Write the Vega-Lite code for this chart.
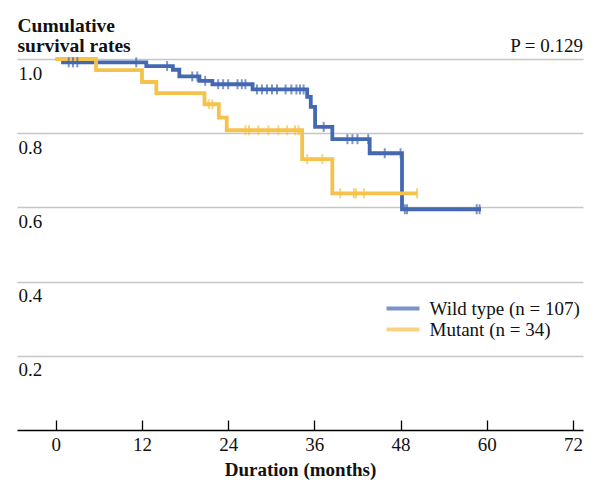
{
  "$schema": "https://vega.github.io/schema/vega-lite/v6.json",
  "width": 566,
  "height": 371,
  "autosize": {"type": "none"},
  "padding": {"left": 17, "top": 59, "right": 18, "bottom": 62},
  "background": "white",
  "config": {
    "font": "Liberation Serif",
    "view": {"stroke": null},
    "legend": {"padding": 0}
  },
  "datasets": {
    "steps": [
      {"group": "Wild type (n = 107)", "m": 0, "s": 1.0},
      {"group": "Wild type (n = 107)", "m": 1.0, "s": 0.991},
      {"group": "Wild type (n = 107)", "m": 12.6, "s": 0.981},
      {"group": "Wild type (n = 107)", "m": 16.3, "s": 0.971},
      {"group": "Wild type (n = 107)", "m": 17.2, "s": 0.953},
      {"group": "Wild type (n = 107)", "m": 20.0, "s": 0.941},
      {"group": "Wild type (n = 107)", "m": 21.8, "s": 0.932},
      {"group": "Wild type (n = 107)", "m": 27.4, "s": 0.918},
      {"group": "Wild type (n = 107)", "m": 35.0, "s": 0.898},
      {"group": "Wild type (n = 107)", "m": 35.5, "s": 0.871},
      {"group": "Wild type (n = 107)", "m": 36.1, "s": 0.817},
      {"group": "Wild type (n = 107)", "m": 38.5, "s": 0.784},
      {"group": "Wild type (n = 107)", "m": 43.7, "s": 0.746},
      {"group": "Wild type (n = 107)", "m": 48.2, "s": 0.595},
      {"group": "Wild type (n = 107)", "m": 59.2, "s": 0.595},
      {"group": "Mutant (n = 34)", "m": 0, "s": 1.0},
      {"group": "Mutant (n = 34)", "m": 5.6, "s": 0.970},
      {"group": "Mutant (n = 34)", "m": 12.0, "s": 0.938},
      {"group": "Mutant (n = 34)", "m": 14.0, "s": 0.908},
      {"group": "Mutant (n = 34)", "m": 20.7, "s": 0.878},
      {"group": "Mutant (n = 34)", "m": 22.7, "s": 0.842},
      {"group": "Mutant (n = 34)", "m": 23.8, "s": 0.808},
      {"group": "Mutant (n = 34)", "m": 34.3, "s": 0.730},
      {"group": "Mutant (n = 34)", "m": 38.5, "s": 0.638},
      {"group": "Mutant (n = 34)", "m": 50.3, "s": 0.638}
    ],
    "censors": [
      {"group": "Wild type (n = 107)", "m": 1.8, "s": 0.991},
      {"group": "Wild type (n = 107)", "m": 2.4, "s": 0.991},
      {"group": "Wild type (n = 107)", "m": 3.0, "s": 0.991},
      {"group": "Wild type (n = 107)", "m": 11.2, "s": 0.991},
      {"group": "Wild type (n = 107)", "m": 15.5, "s": 0.981},
      {"group": "Wild type (n = 107)", "m": 19.0, "s": 0.953},
      {"group": "Wild type (n = 107)", "m": 19.7, "s": 0.953},
      {"group": "Wild type (n = 107)", "m": 20.8, "s": 0.941},
      {"group": "Wild type (n = 107)", "m": 22.6, "s": 0.932},
      {"group": "Wild type (n = 107)", "m": 23.3, "s": 0.932},
      {"group": "Wild type (n = 107)", "m": 24.0, "s": 0.932},
      {"group": "Wild type (n = 107)", "m": 25.3, "s": 0.932},
      {"group": "Wild type (n = 107)", "m": 25.9, "s": 0.932},
      {"group": "Wild type (n = 107)", "m": 26.4, "s": 0.932},
      {"group": "Wild type (n = 107)", "m": 28.0, "s": 0.918},
      {"group": "Wild type (n = 107)", "m": 28.7, "s": 0.918},
      {"group": "Wild type (n = 107)", "m": 29.4, "s": 0.918},
      {"group": "Wild type (n = 107)", "m": 30.1, "s": 0.918},
      {"group": "Wild type (n = 107)", "m": 30.8, "s": 0.918},
      {"group": "Wild type (n = 107)", "m": 32.0, "s": 0.918},
      {"group": "Wild type (n = 107)", "m": 32.8, "s": 0.918},
      {"group": "Wild type (n = 107)", "m": 33.5, "s": 0.918},
      {"group": "Wild type (n = 107)", "m": 34.0, "s": 0.918},
      {"group": "Wild type (n = 107)", "m": 34.5, "s": 0.918},
      {"group": "Wild type (n = 107)", "m": 37.3, "s": 0.817},
      {"group": "Wild type (n = 107)", "m": 40.6, "s": 0.784},
      {"group": "Wild type (n = 107)", "m": 41.3, "s": 0.784},
      {"group": "Wild type (n = 107)", "m": 42.0, "s": 0.784},
      {"group": "Wild type (n = 107)", "m": 43.5, "s": 0.784},
      {"group": "Wild type (n = 107)", "m": 45.8, "s": 0.746},
      {"group": "Wild type (n = 107)", "m": 48.0, "s": 0.746},
      {"group": "Wild type (n = 107)", "m": 48.6, "s": 0.595},
      {"group": "Wild type (n = 107)", "m": 48.9, "s": 0.595},
      {"group": "Wild type (n = 107)", "m": 58.6, "s": 0.595},
      {"group": "Wild type (n = 107)", "m": 59.0, "s": 0.595},
      {"group": "Mutant (n = 34)", "m": 21.3, "s": 0.878},
      {"group": "Mutant (n = 34)", "m": 21.8, "s": 0.878},
      {"group": "Mutant (n = 34)", "m": 26.4, "s": 0.808},
      {"group": "Mutant (n = 34)", "m": 26.9, "s": 0.808},
      {"group": "Mutant (n = 34)", "m": 28.2, "s": 0.808},
      {"group": "Mutant (n = 34)", "m": 29.6, "s": 0.808},
      {"group": "Mutant (n = 34)", "m": 31.0, "s": 0.808},
      {"group": "Mutant (n = 34)", "m": 32.2, "s": 0.808},
      {"group": "Mutant (n = 34)", "m": 33.3, "s": 0.808},
      {"group": "Mutant (n = 34)", "m": 33.8, "s": 0.808},
      {"group": "Mutant (n = 34)", "m": 35.0, "s": 0.730},
      {"group": "Mutant (n = 34)", "m": 37.1, "s": 0.730},
      {"group": "Mutant (n = 34)", "m": 39.6, "s": 0.638},
      {"group": "Mutant (n = 34)", "m": 41.5, "s": 0.638},
      {"group": "Mutant (n = 34)", "m": 41.8, "s": 0.638},
      {"group": "Mutant (n = 34)", "m": 42.9, "s": 0.638},
      {"group": "Mutant (n = 34)", "m": 50.3, "s": 0.638}
    ],
    "note": [{"label": "P = 0.129"}]
  },
  "layer": [
    {
      "data": {"name": "steps"},
      "mark": {"type": "line", "interpolate": "step-after", "strokeWidth": 3.8},
      "encoding": {
        "x": {
          "field": "m", "type": "quantitative",
          "scale": {"domain": [-5.4, 73.4], "nice": false, "zero": false},
          "axis": {
            "title": "Duration (months)",
            "values": [0, 12, 24, 36, 48, 60, 72],
            "grid": false,
            "domainColor": "#000", "domainWidth": 1.3,
            "tickColor": "#000", "tickWidth": 1.3, "tickSize": -10,
            "labelPadding": 15, "labelFontSize": 19, "labelColor": "#111", "labelFlush": false,
            "titleFontSize": 19, "titleFontWeight": "bold", "titleColor": "#111", "titlePadding": 6
          }
        },
        "y": {
          "field": "s", "type": "quantitative",
          "scale": {"domain": [0, 1], "nice": false, "zero": false},
          "axis": {
            "title": ["Cumulative", "survival rates"],
            "titleAngle": 0, "titleAlign": "left", "titleBaseline": "alphabetic",
            "titleX": 0, "titleY": -28, "titleFontSize": 19.5, "titleFontWeight": "bold",
            "titleLineHeight": 20, "titleColor": "#111",
            "values": [0.2, 0.4, 0.6, 0.8, 1.0], "format": ".1f",
            "domain": false, "ticks": false, "tickSize": 0,
            "labelAlign": "left", "labelBaseline": "alphabetic", "labelPadding": -1, "labelOffset": 20,
            "labelFontSize": 19, "labelColor": "#111",
            "grid": true, "gridColor": "#c6c6c6", "gridWidth": 1.5
          }
        },
        "color": {
          "field": "group", "type": "nominal",
          "scale": {"domain": ["Wild type (n = 107)", "Mutant (n = 34)"], "range": ["#4468b2", "#f5c24c"]},
          "legend": {
            "title": null, "orient": "none", "legendX": 376.5, "legendY": 240,
            "symbolType": "M-9.5,0H9.5", "symbolSize": 12, "symbolStrokeWidth": 4,
            "labelFontSize": 19, "labelColor": "#111", "labelOffset": 17, "rowPadding": 1
          }
        }
      }
    },
    {
      "data": {"name": "censors"},
      "mark": {"type": "tick", "orient": "vertical", "size": 10, "thickness": 2},
      "encoding": {
        "x": {"field": "m", "type": "quantitative"},
        "y": {"field": "s", "type": "quantitative"},
        "color": {"field": "group", "type": "nominal"}
      }
    },
    {
      "data": {"name": "note"},
      "mark": {"type": "text", "align": "right", "baseline": "alphabetic", "dy": -7, "fontSize": 19, "color": "#111"},
      "encoding": {
        "x": {"datum": 73.4, "type": "quantitative"},
        "y": {"datum": 1.0, "type": "quantitative"},
        "text": {"field": "label"}
      }
    }
  ]
}
